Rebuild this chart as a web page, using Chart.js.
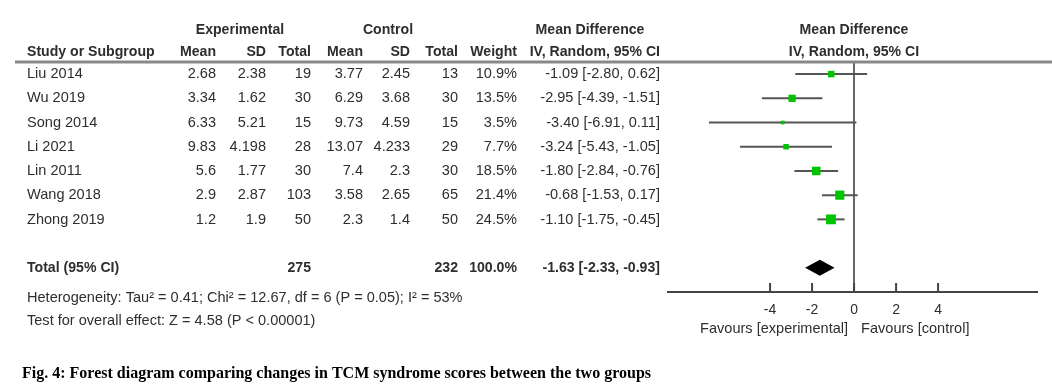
<!DOCTYPE html>
<html>
<head>
<meta charset="utf-8">
<script src="https://cdn.jsdelivr.net/npm/chart.js@4"></script>
<style>
  body { margin: 0; background: #fff; }
</style>
</head>
<body>
<canvas id="forestChart" width="1052" height="388"></canvas>
<script>
// ------ study data ------ //
var studies = ['Liu 2014', 'Wu 2019', 'Song 2014', 'Li 2021', 'Lin 2011', 'Wang 2018', 'Zhong 2019']
var expMean = [2.68, 3.34, 6.33, 9.83, 5.6, 2.9, 1.2]
var expSD = [2.38, 1.62, 5.21, 4.198, 1.77, 2.87, 1.9]
var expN = [19, 30, 15, 28, 30, 103, 50]
var ctlMean = [3.77, 6.29, 9.73, 13.07, 7.4, 3.58, 2.3]
var ctlSD = [2.45, 3.68, 4.59, 4.233, 2.3, 2.65, 1.4]
var ctlN = [13, 30, 15, 29, 30, 65, 50]
var weight = [10.9, 13.5, 3.5, 7.7, 18.5, 21.4, 24.5]
var md = [-1.09, -2.95, -3.40, -3.24, -1.80, -0.68, -1.10]
var ciLo = [-2.80, -4.39, -6.91, -5.43, -2.84, -1.53, -1.75]
var ciHi = [0.62, -1.51, 0.11, -1.05, -0.76, 0.17, -0.45]
var totalN = [275, 232]
var totalEffect = [-1.63, -2.33, -0.93]   // estimate, lower, upper
var axisTicks = [-4, -2, 0, 2, 4]

var TOTAL_ROW = 9
var FONT = "'Liberation Sans', Arial, sans-serif"
var TXT = '#2e2e2e'
var SQ_BOLD = 0.94   // no narrow font installed, so squeeze Liberation Sans
var SQ_REG = 0.97

// right edges of table columns
var cols = { mean1: 216, sd1: 266, n1: 311, mean2: 363, sd2: 410, n2: 458, w: 517, ci: 660 }

function ciText(m, lo, hi) {
	return m.toFixed(2) + ' [' + lo.toFixed(2) + ', ' + hi.toFixed(2) + ']'
}

// narrow text helper
function txt(c, s, x, y, align, sq) {
	c.save()
	c.translate(x, y)
	c.scale(sq || SQ_REG, 1)
	c.textAlign = align || 'left'
	c.fillText(s, 0, 0)
	c.restore()
}
function btxt(c, s, x, y, align) { txt(c, s, x, y, align, SQ_BOLD) }

var ciSets = studies.map(function (s, i) {
	return {
		data: [{ x: ciLo[i], y: i + 1 }, { x: ciHi[i], y: i + 1 }],
		showLine: true,
		borderColor: '#555',
		borderWidth: 2,
		pointRadius: 0
	}
})

var squares = {
	data: studies.map(function (s, i) { return { x: md[i], y: i + 1 } }),
	pointStyle: 'rect',
	pointRadius: weight.map(function (w) { return 1.4 * Math.sqrt(w) }),
	backgroundColor: '#00c400',
	borderWidth: 0
}

var tablePlugin = {
	id: 'forestTable',
	afterDraw: function (chart) {
		var c = chart.ctx
		var xs = chart.scales.x
		var ys = chart.scales.y
		c.save()

		// header rule
		c.strokeStyle = '#888'
		c.lineWidth = 3
		c.beginPath(); c.moveTo(15, 62); c.lineTo(1052, 62); c.stroke()

		// tick marks pointing up from the axis
		c.strokeStyle = '#444'
		c.lineWidth = 2
		axisTicks.forEach(function (t) {
			var px = xs.getPixelForValue(t)
			c.beginPath(); c.moveTo(px, chart.chartArea.bottom); c.lineTo(px, chart.chartArea.bottom - 9); c.stroke()
		})

		// pooled diamond
		var yT = ys.getPixelForValue(TOTAL_ROW)
		c.fillStyle = '#000'
		c.beginPath()
		c.moveTo(xs.getPixelForValue(totalEffect[1]), yT)
		c.lineTo(xs.getPixelForValue(totalEffect[0]), yT - 8)
		c.lineTo(xs.getPixelForValue(totalEffect[2]), yT)
		c.lineTo(xs.getPixelForValue(totalEffect[0]), yT + 8)
		c.closePath(); c.fill()

		c.fillStyle = TXT
		c.textBaseline = 'middle'

		// headers
		c.font = 'bold 15px ' + FONT
		btxt(c, 'Experimental', 240, 30, 'center')
		btxt(c, 'Control', 388, 30, 'center')
		btxt(c, 'Mean Difference', 590, 30, 'center')
		btxt(c, 'Mean Difference', 854, 30, 'center')
		btxt(c, 'IV, Random, 95% CI', 854, 52, 'center')
		btxt(c, 'Study or Subgroup', 27, 52)
		btxt(c, 'Mean', cols.mean1, 52, 'right')
		btxt(c, 'SD', cols.sd1, 52, 'right')
		btxt(c, 'Total', cols.n1, 52, 'right')
		btxt(c, 'Mean', cols.mean2, 52, 'right')
		btxt(c, 'SD', cols.sd2, 52, 'right')
		btxt(c, 'Total', cols.n2, 52, 'right')
		btxt(c, 'Weight', cols.w, 52, 'right')
		btxt(c, 'IV, Random, 95% CI', cols.ci, 52, 'right')

		// study rows
		c.font = '15px ' + FONT
		studies.forEach(function (s, i) {
			var y = ys.getPixelForValue(i + 1)
			txt(c, s, 27, y)
			txt(c, String(expMean[i]), cols.mean1, y, 'right')
			txt(c, String(expSD[i]), cols.sd1, y, 'right')
			txt(c, String(expN[i]), cols.n1, y, 'right')
			txt(c, String(ctlMean[i]), cols.mean2, y, 'right')
			txt(c, String(ctlSD[i]), cols.sd2, y, 'right')
			txt(c, String(ctlN[i]), cols.n2, y, 'right')
			txt(c, weight[i].toFixed(1) + '%', cols.w, y, 'right')
			txt(c, ciText(md[i], ciLo[i], ciHi[i]), cols.ci, y, 'right')
		})

		// total row
		c.font = 'bold 15px ' + FONT
		btxt(c, 'Total (95% CI)', 27, yT)
		btxt(c, String(totalN[0]), cols.n1, yT, 'right')
		btxt(c, String(totalN[1]), cols.n2, yT, 'right')
		btxt(c, '100.0%', cols.w, yT, 'right')
		btxt(c, ciText(totalEffect[0], totalEffect[1], totalEffect[2]), cols.ci, yT, 'right')

		c.font = '15px ' + FONT
		txt(c, 'Heterogeneity: Tau\u00b2 = 0.41; Chi\u00b2 = 12.67, df = 6 (P = 0.05); I\u00b2 = 53%', 27, 298)
		txt(c, 'Test for overall effect: Z = 4.58 (P < 0.00001)', 27, 321)

		// favours labels
		var x0 = xs.getPixelForValue(0)
		txt(c, 'Favours [experimental]', x0 - 6, 329, 'right')
		txt(c, 'Favours [control]', x0 + 7, 329)

		// caption
		c.font = 'bold 16px "Liberation Serif", "Times New Roman", serif'
		c.fillStyle = '#000'
		c.textAlign = 'left'
		c.fillText('Fig. 4: Forest diagram comparing changes in TCM syndrome scores between the two groups', 22, 374)
		c.restore()
	}
}

var ctx = document.getElementById('forestChart')
var forest = new Chart(ctx, {
	type: 'scatter',
	data: { datasets: [squares].concat(ciSets) },
	options: {
		responsive: false,
		animation: false,
		layout: { padding: { left: 668, right: 15, top: 62, bottom: 62 } },
		plugins: { legend: { display: false }, tooltip: { enabled: false } },
		scales: {
			x: {
				min: -8.86,
				max: 8.71,
				afterBuildTicks: function (scale) {
					scale.ticks = axisTicks.map(function (v) { return { value: v } })
				},
				afterFit: function (scale) { scale.height = 34 },
				grid: {
					drawTicks: false,
					color: function (c) { return c.tick && c.tick.value === 0 ? '#666' : 'rgba(0,0,0,0)' },
					lineWidth: 2
				},
				border: { display: true, color: '#444', width: 2 },
				ticks: { padding: 10, color: TXT, font: { family: FONT, size: 14 } }
			},
			y: {
				display: false,
				reverse: true,
				min: 0.5,
				max: 10
			}
		}
	},
	plugins: [tablePlugin]
})
</script>
</body>
</html>
